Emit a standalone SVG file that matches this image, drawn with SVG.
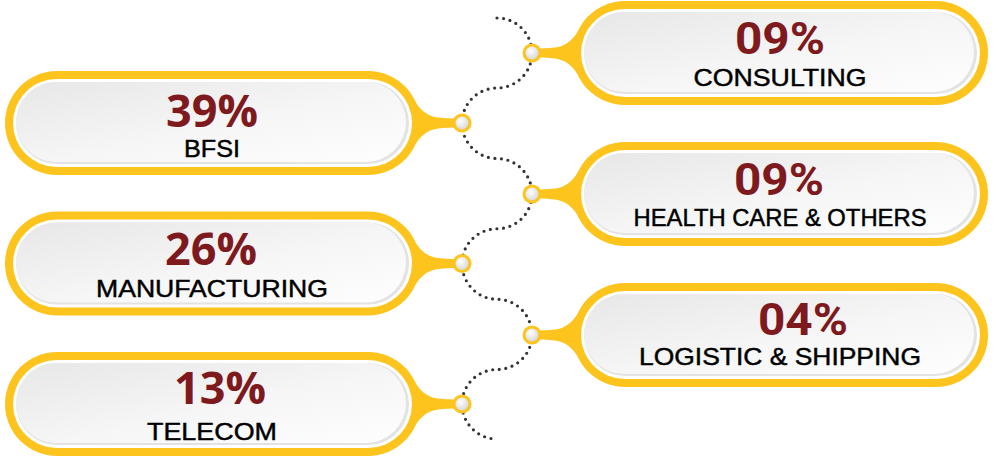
<svg xmlns="http://www.w3.org/2000/svg" xmlns:xlink="http://www.w3.org/1999/xlink" width="998" height="461" viewBox="0 0 998 461">
<style>
.ring{fill:#FDC41E}
.gap{fill:#ffffff}
.shade{fill:#e3e3e3}
.face{fill:url(#faceGrad)}
.knobIn{fill:url(#knobGrad)}
.pctL{font-family:"Open Sans","Noto Sans",sans-serif;font-weight:700;font-size:45px;fill:#7E1A1E;text-anchor:middle}
.pctR{font-family:Roboto,"Open Sans",sans-serif;font-weight:700;font-size:45px;fill:#7E1A1E;text-anchor:middle}
.lbl{font-family:"Liberation Sans",Arial,sans-serif;font-size:24px;fill:#000;stroke:#000;stroke-width:0.45;text-anchor:middle}
.dots{fill:none;stroke:#333333;stroke-width:3.2;stroke-linecap:round;stroke-dasharray:0 6.6}
</style>
<defs>
<linearGradient id="faceGrad" x1="0" y1="0" x2="1" y2="1">
<stop offset="0" stop-color="#e7e7e7"/>
<stop offset="0.55" stop-color="#f6f6f6"/>
<stop offset="1" stop-color="#fefefe"/>
</linearGradient>
<radialGradient id="knobGrad" cx="0.4" cy="0.35" r="0.7">
<stop offset="0" stop-color="#ffffff"/>
<stop offset="1" stop-color="#d6d6d6"/>
</radialGradient>
<path id="stemL" class="ring" d="M404.8,-36.8 C414,-27 418,-8 438,-5.5 C446,-4.6 452,-4.5 462,-4.5 L462,4.5 C452,4.5 446,4.6 438,5.5 C418,8 414,27 404.8,36.8 Z"/>
<path id="stemR" class="ring" d="M588.2,-36.8 C579,-27 575,-8 555,-5.5 C547,-4.6 541,-4.5 532,-4.5 L532,4.5 C541,4.5 547,4.6 555,5.5 C575,8 579,27 588.2,36.8 Z"/>
<g id="pillL">
<rect class="ring" x="5" y="-52" width="415" height="104" rx="52"/>
<rect class="gap" x="13" y="-44" width="399" height="88" rx="44"/>
<rect class="shade" x="16" y="-41" width="393" height="82" rx="41"/>
<rect class="face" x="16" y="-41" width="390" height="80" rx="40"/>
</g>
<g id="pillR">
<rect class="ring" x="573" y="-52" width="415" height="104" rx="52"/>
<rect class="gap" x="581" y="-44" width="399" height="88" rx="44"/>
<rect class="shade" x="584" y="-41" width="393" height="82" rx="41"/>
<rect class="face" x="584" y="-41" width="390" height="80" rx="40"/>
</g>
<g id="knob">
<circle class="ring" r="9.5"/>
<circle class="knobIn" r="6.5"/>
</g>
</defs>

<g id="connectors">
<path class="dots" d="M497,18 A35,35 0 0 1 532,53 A35,35 0 0 1 497,88 A35,35 0 0 0 462,123 A35,35.5 0 0 0 497,158.5 A35,35.5 0 0 1 532,194 A35,34.75 0 0 1 497,228.75 A35,34.75 0 0 0 462,263.5 A35,35.75 0 0 0 497,299.25 A35,35.75 0 0 1 532,335 A35,34.5 0 0 1 497,369.5 A35,34.5 0 0 0 462,404 A35,35 0 0 0 497,439"/>
</g>

<g id="node-bfsi">
<use xlink:href="#stemL" y="123"/>
<use xlink:href="#pillL" y="123"/>
<use xlink:href="#knob" x="462" y="123"/>
<text class="pctL" x="212" y="127">39%</text>
<text class="lbl" x="212" y="157" textLength="56" lengthAdjust="spacingAndGlyphs">BFSI</text>
</g>

<g id="node-manufacturing">
<use xlink:href="#stemL" y="263.5"/>
<use xlink:href="#pillL" y="263.5"/>
<use xlink:href="#knob" x="462" y="263.5"/>
<text class="pctL" x="211" y="265">26%</text>
<text class="lbl" x="212" y="297" textLength="232" lengthAdjust="spacingAndGlyphs">MANUFACTURING</text>
</g>

<g id="node-telecom">
<use xlink:href="#stemL" y="404"/>
<use xlink:href="#pillL" y="404"/>
<use xlink:href="#knob" x="462" y="404"/>
<text class="pctL" x="220" y="404">13%</text>
<text class="lbl" x="212" y="440" textLength="130" lengthAdjust="spacingAndGlyphs">TELECOM</text>
</g>

<g id="node-consulting">
<use xlink:href="#stemR" y="53"/>
<use xlink:href="#pillR" y="53"/>
<use xlink:href="#knob" x="532" y="53"/>
<text class="pctR" x="780" y="54" textLength="90" lengthAdjust="spacingAndGlyphs">09%</text>
<text class="lbl" x="780" y="86" textLength="173" lengthAdjust="spacingAndGlyphs">CONSULTING</text>
</g>

<g id="node-healthcare">
<use xlink:href="#stemR" y="194"/>
<use xlink:href="#pillR" y="194"/>
<use xlink:href="#knob" x="532" y="194"/>
<text class="pctR" x="779" y="195" textLength="90" lengthAdjust="spacingAndGlyphs">09%</text>
<text class="lbl" x="780" y="226" textLength="293" lengthAdjust="spacingAndGlyphs">HEALTH CARE &amp; OTHERS</text>
</g>

<g id="node-logistic">
<use xlink:href="#stemR" y="335"/>
<use xlink:href="#pillR" y="335"/>
<use xlink:href="#knob" x="532" y="335"/>
<text class="pctR" x="803" y="335" textLength="90" lengthAdjust="spacingAndGlyphs">04%</text>
<text class="lbl" x="780" y="365" textLength="282" lengthAdjust="spacingAndGlyphs">LOGISTIC &amp; SHIPPING</text>
</g>
</svg>
